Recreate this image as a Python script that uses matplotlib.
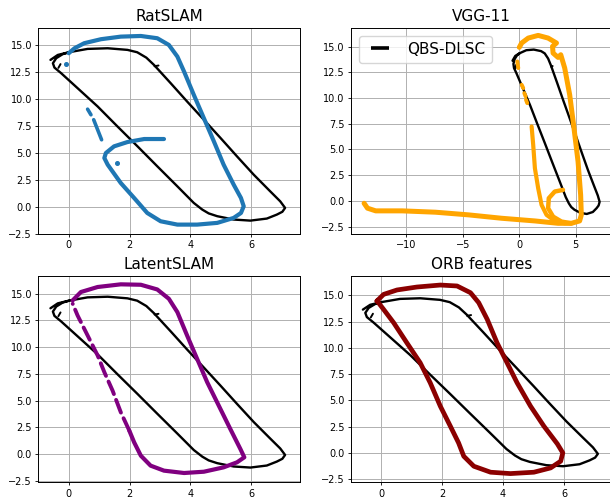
import matplotlib

matplotlib.use("Agg")
import matplotlib.pyplot as plt
from matplotlib.lines import Line2D

# QBS-DLSC trajectory, drawn in every panel
qbs_x = [-0.6, -0.36, 0.0, 0.62, 1.28, 1.93, 2.25, 2.55, 2.8, 3.35, 3.89, 4.44, 4.99, 5.53,
         6.08, 6.62, 6.95, 7.11, 7.02, 6.84, 6.51, 5.97, 5.42, 4.88, 4.6, 4.39, 4.11, 3.57,
         2.91, 2.26, 1.6, 0.95, 0.29, -0.25, -0.47, -0.52, -0.41, -0.2, 0.02]
qbs_y = [13.64, 14.1, 14.35, 14.66, 14.72, 14.57, 14.35, 13.85, 13.18, 11.48, 9.78, 8.09,
         6.39, 4.69, 2.99, 1.45, 0.52, -0.09, -0.45, -0.71, -1.08, -1.27, -1.17, -0.86, -0.6,
         -0.25, 0.37, 1.91, 3.77, 5.62, 7.47, 9.32, 11.02, 12.41, 12.93, 13.33, 13.8, 14.17,
         14.35]
qbs_hook_x = [-0.34, -0.27]
qbs_hook_y = [12.9, 13.25]
qbs_stub_x = [2.82, 2.95]
qbs_stub_y = [13.05, 13.12]

# RatSLAM
rat_x = [0.0, 0.19, 0.51, 1.06, 1.71, 2.37, 2.91, 3.29, 3.57, 3.79, 4.11, 4.44, 4.77, 5.09,
         5.42, 5.66, 5.75, 5.66, 5.42, 4.88, 4.22, 3.57, 3.02, 2.58, 2.15, 1.71, 1.28, 1.17,
         1.22, 1.49, 1.93, 2.48, 3.13]
rat_y = [14.26, 14.72, 15.19, 15.56, 15.8, 15.86, 15.65, 15.03, 13.95, 12.56, 10.4, 8.24, 6.08,
         3.92, 2.07, 0.83, 0.06, -0.56, -1.02, -1.48, -1.64, -1.64, -1.33, -0.56, 0.83, 2.22,
         3.92, 4.54, 5.0, 5.62, 6.02, 6.3, 6.3]
rat_gap1_x = [0.62, 0.73]
rat_gap1_y = [9.07, 8.55]
rat_gap2_x = [0.82, 1.08]
rat_gap2_y = [8.09, 6.23]
rat_dots_x = [-0.09, 1.57]
rat_dots_y = [13.24, 4.1]

# VGG-11
vgg_x = [-13.74, -13.44, -12.71, -10.36, -7.43, -4.49, -1.56, 1.38, 3.43, 4.61, 5.34, 5.49,
         5.43, 5.2, 4.84, 4.46, 4.02, 3.67, 3.43, 2.99, 2.94, 3.29, 2.55, 1.67, 0.79, 0.21, 0.0]
vgg_y = [-0.23, -0.71, -0.97, -0.97, -1.1, -1.36, -1.69, -1.95, -2.18, -2.18, -1.95, -1.36,
         0.58, 3.83, 7.08, 10.32, 12.92, 14.22, 13.96, 14.38, 15.03, 15.36, 15.84, 16.1, 15.84,
         15.36, 14.94]
vgg_leg_x = [1.09, 1.23, 1.38, 1.67, 1.97, 2.41, 3.14, 4.02, 4.61]
vgg_leg_y = [7.24, 5.45, 3.18, 1.23, -0.39, -1.36, -1.95, -2.18, -2.18]
vgg_loop_x = [3.87, 3.14, 2.61, 2.55, 2.99, 3.73, 4.61]
vgg_loop_y = [1.07, 0.91, 0.26, -0.71, -1.53, -2.01, -2.18]
vgg_bits_x = [[-0.18, -0.09], [0.21, 0.35], [0.44, 0.56], [0.59, 0.7]]
vgg_bits_y = [[13.57, 12.92], [11.3, 10.97], [10.49, 10.16], [9.84, 9.51]]

# LatentSLAM
lat_x = [0.13, 0.4, 0.95, 1.71, 2.37, 2.91, 3.29, 3.57, 3.89, 4.22, 4.55, 4.93, 5.31, 5.64,
         5.77, 5.53, 5.09, 4.44, 3.79, 3.13, 2.69, 2.37, 2.15, 1.99]
lat_y = [14.38, 15.16, 15.63, 15.88, 15.84, 15.4, 14.53, 13.28, 11.09, 8.9, 6.72, 4.53, 2.34,
         0.47, -0.31, -0.78, -1.25, -1.66, -1.78, -1.56, -1.09, -0.16, 1.09, 2.19]
lat_gap_x = [1.99, 1.71, 1.44, 1.17, 0.95, 0.73, 0.51, 0.29, 0.13]
lat_gap_y = [2.19, 3.91, 5.94, 7.66, 9.22, 10.47, 11.72, 12.97, 14.06]

# ORB features
orb_x = [-0.14, 0.08, 0.52, 1.17, 1.94, 2.49, 2.93, 3.2, 3.48, 3.8, 4.13, 4.46, 4.9, 5.34,
         5.78, 5.96, 5.89, 5.56, 5.01, 4.24, 3.59, 3.04, 2.71, 2.54, 2.27, 1.94, 1.61, 1.28,
         0.84, 0.41, 0.08, -0.09, -0.14]
orb_y = [14.46, 15.09, 15.51, 15.79, 15.98, 15.89, 15.25, 14.3, 12.71, 10.49, 8.58, 6.67, 4.45,
         2.54, 0.86, 0.0, -0.79, -1.43, -1.84, -1.97, -1.84, -1.27, -0.32, 0.95, 2.54, 4.45,
         6.67, 8.58, 10.49, 12.39, 13.66, 14.3, 14.46]

W, H = 610, 501
LINE = dict(solid_capstyle="round", solid_joinstyle="round", dash_capstyle="round")


def make_axes(fig, left, top, right, bottom):
    return fig.add_axes([left / W, (H - bottom) / H, (right - left) / W, (bottom - top) / H])


def draw_qbs(ax):
    ax.plot(qbs_x, qbs_y, color="black", lw=1.7, zorder=2, **LINE)
    ax.plot(qbs_hook_x, qbs_hook_y, color="black", lw=1.4, zorder=2, **LINE)
    ax.plot(qbs_stub_x, qbs_stub_y, color="black", lw=1.4, zorder=2, **LINE)


def style(ax, title, xlim, ylim):
    ax.set_title(title, fontsize=11, pad=5)
    ax.set_xlim(*xlim)
    ax.set_ylim(*ylim)
    ax.grid(True, color="#b0b0b0", lw=0.7)
    ax.set_axisbelow(True)
    ax.tick_params(labelsize=7, length=2.5, width=0.6, pad=2)
    for sp in ax.spines.values():
        sp.set_linewidth(0.7)


fig = plt.figure(figsize=(W / 100, H / 100), dpi=100)

# RatSLAM
ax = make_axes(fig, 38.3, 28, 300, 234.2)
draw_qbs(ax)
c = "#1f77b4"
ax.plot(rat_x, rat_y, color=c, lw=3.0, zorder=3, **LINE)
ax.plot(rat_gap1_x, rat_gap1_y, color=c, lw=2.6, zorder=3, **LINE)
ax.plot(rat_gap2_x, rat_gap2_y, color=c, lw=2.6, zorder=3, **LINE)
ax.plot(rat_dots_x, rat_dots_y, "o", color=c, ms=2.6, zorder=3)
style(ax, "RatSLAM", (-1.0, 7.6), (-2.53, 16.6))

# VGG-11
ax = make_axes(fig, 351, 28, 612.5, 234.2)
draw_qbs(ax)
c = "orange"
ax.plot(vgg_x, vgg_y, color=c, lw=3.6, zorder=3, **LINE)
ax.plot(vgg_leg_x, vgg_leg_y, color=c, lw=3.0, zorder=3, **LINE)
ax.plot(vgg_loop_x, vgg_loop_y, color=c, lw=3.2, zorder=3, **LINE)
for bx, by in zip(vgg_bits_x, vgg_bits_y):
    ax.plot(bx, by, color=c, lw=2.8, zorder=3, **LINE)
style(ax, "VGG-11", (-14.9, 8.25), (-3.24, 16.82))
handle = Line2D([], [], color="black", marker="_", ls="none", ms=13, mew=2.6)
ax.legend([handle], ["QBS-DLSC"], loc="upper left", fontsize=11)

# LatentSLAM
ax = make_axes(fig, 38.3, 276, 300, 482.3)
draw_qbs(ax)
c = "purple"
ax.plot(lat_x, lat_y, color=c, lw=3.0, zorder=3, **LINE)
ax.plot(lat_gap_x, lat_gap_y, color=c, lw=2.8, zorder=3, ls=(0, (3.5, 1.6)), **LINE)
style(ax, "LatentSLAM", (-1.0, 7.6), (-2.65, 16.66))

# ORB features
ax = make_axes(fig, 351, 276, 612.5, 482.3)
draw_qbs(ax)
ax.plot(orb_x, orb_y, color="darkred", lw=3.4, zorder=3, **LINE)
style(ax, "ORB features", (-0.99, 7.59), (-2.8, 16.84))

fig.savefig("out.png", dpi=100)
